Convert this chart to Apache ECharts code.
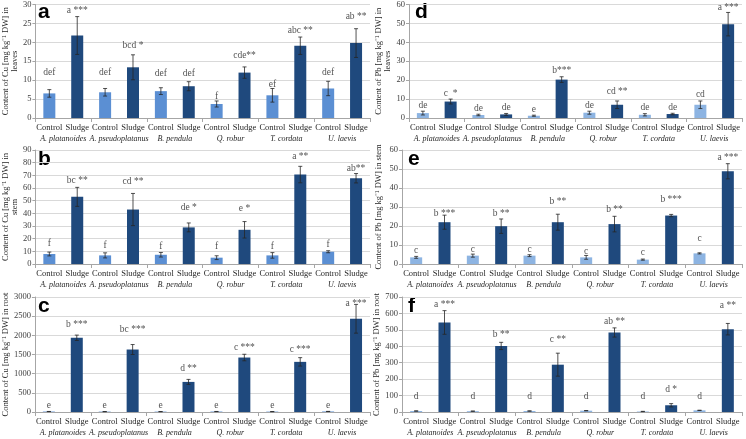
<!DOCTYPE html>
<html><head><meta charset="utf-8">
<script src="https://cdn.jsdelivr.net/npm/echarts@6/dist/echarts.min.js"></script>
<style>html,body{margin:0;padding:0;background:#fff}#c{width:746px;height:439px}</style>
</head><body><div id="c"></div>
<script>
const treatments = ['Control', 'Sludge'];
const species = ['A. platanoides', 'A. pseudoplatanus', 'B. pendula', 'Q. robur', 'T. cordata', 'U. laevis'];

// a: Cu in leaves
const cuLeavesControl = [6.5, 6.8, 7.1, 3.7, 6.0, 7.8];
const cuLeavesControlErr = [1.0, 1.0, 0.9, 0.8, 1.8, 1.9];
const cuLeavesSludge = [21.8, 13.4, 8.4, 12.0, 19.1, 19.8];
const cuLeavesSludgeErr = [5.0, 3.3, 1.2, 1.5, 2.3, 3.8];
const cuLeavesLetters = ['def', 'a ***', 'def', 'bcd *', 'def', 'def', 'f', 'cde**', 'ef', 'abc **', 'def', 'ab **'];
const cuLeavesLetterY = [11.9, 28.5, 11.9, 19.1, 11.7, 11.7, 5.7, 16.5, 8.9, 23.2, 11.9, 26.7];

// b: Cu in stem
const cuStemControl = [7.9, 6.8, 7.3, 5.0, 6.8, 9.7];
const cuStemControlErr = [1.5, 2.0, 1.8, 1.5, 2.2, 0.8];
const cuStemSludge = [53, 43, 28.9, 27, 70.6, 67.7];
const cuStemSludgeErr = [7.5, 12.7, 3.5, 6.5, 6.5, 3.7];
const cuStemLetters = ['f', 'bc **', 'f', 'cd **', 'f', 'de *', 'f', 'e *', 'f', 'a **', 'f', 'ab**'];
const cuStemLetterY = [16, 65.6, 14.7, 65, 13.9, 45, 14.2, 44, 14.2, 85, 15.7, 75.6];

// c: Cu in root
const cuRootControl = [12, 10, 10, 12, 10, 14];
const cuRootControlErr = [2, 2, 2, 2, 2, 2];
const cuRootSludge = [1936, 1630, 785, 1421, 1308, 2432];
const cuRootSludgeErr = [70, 130, 65, 85, 110, 375];
const cuRootLetters = ['e', 'b ***', 'e', 'bc ***', 'e', 'd **', 'e', 'c ***', 'e', 'c ***', 'e', 'a ***'];
const cuRootLetterY = [175, 2275, 175, 2145, 175, 1133, 175, 1683, 175, 1639, 175, 2842];

// d: Pb in leaves
const pbLeavesControl = [2.6, 1.6, 1.2, 2.8, 1.7, 7.0];
const pbLeavesControlErr = [1.0, 0.4, 0.3, 0.8, 0.6, 2.0];
const pbLeavesSludge = [8.7, 1.9, 20.3, 7.0, 2.1, 49.6];
const pbLeavesSludgeErr = [1.3, 0.5, 1.5, 2.0, 0.4, 6.2];
const pbLeavesLetters = ['de', 'c  *', 'de', 'de', 'e', 'b***', 'de', 'cd **', 'de', 'de', 'cd', 'a ***'];
const pbLeavesLetterY = [6.4, 13, 5.0, 5.4, 4.3, 25.2, 6.4, 13.9, 5.4, 5.4, 12.5, 58.3];

// e: Pb in stem
const pbStemControl = [3.5, 4.4, 4.4, 3.5, 2.3, 5.6];
const pbStemControlErr = [0.5, 0.8, 0.5, 1.0, 0.3, 0.3];
const pbStemSludge = [22, 19.9, 22, 21, 25.5, 48.8];
const pbStemSludgeErr = [3.7, 3.8, 4.2, 4.1, 0.6, 4.0];
const pbStemLetters = ['c', 'b ***', 'c', 'b **', 'c', 'b **', 'c', 'b **', 'c', 'b ***', 'c', 'a ***'];
const pbStemLetterY = [7, 26.7, 7.5, 26.7, 7.5, 32.9, 6.6, 28.5, 6.3, 33.7, 13.3, 56];

// f: Pb in root
const pbRootControl = [6, 5, 6, 8, 3, 10];
const pbRootControlErr = [1, 1, 1, 1, 1, 1];
const pbRootSludge = [545, 402, 288, 484, 41, 504];
const pbRootSludgeErr = [72, 22, 70, 28, 10, 35];
const pbRootLetters = ['d', 'a ***', 'd', 'b **', 'd', 'c **', 'd', 'ab **', 'd', 'd *', 'd', 'a **'];
const pbRootLetterY = [96, 653, 92, 471, 92, 439, 96, 551, 92, 137, 96, 647];

// y-axis ranges
const yMax = { a: 30, b: 90, c: 3000, d: 60, e: 60, f: 700 };
const yStep = { a: 5, b: 10, c: 500, d: 10, e: 10, f: 100 };

const SUP = '\u207B\u00B9';
const panels = [
  { key: 'a', ctl: cuLeavesControl, ctlE: cuLeavesControlErr, sl: cuLeavesSludge, slE: cuLeavesSludgeErr, let: cuLeavesLetters, letY: cuLeavesLetterY,
    name: 'Content of Cu [mg kg' + SUP + ' DW] in\nleaves', gap: 14, grid: { left: 32, width: 338, top: 3, height: 115 }, ctlColor: '#5b8fd3' },
  { key: 'b', ctl: cuStemControl, ctlE: cuStemControlErr, sl: cuStemSludge, slE: cuStemSludgeErr, let: cuStemLetters, letY: cuStemLetterY,
    name: 'Content of Cu [mg kg' + SUP + ' DW] in\nstem', gap: 14, grid: { left: 32, width: 338, top: 150, height: 114 }, ctlColor: '#5b8fd3' },
  { key: 'c', ctl: cuRootControl, ctlE: cuRootControlErr, sl: cuRootSludge, slE: cuRootSludgeErr, let: cuRootLetters, letY: cuRootLetterY,
    name: 'Content of Cu [mg kg' + SUP + ' DW] in root', gap: 18, grid: { left: 32, width: 338, top: 297, height: 115 }, ctlColor: '#5b8fd3' },
  { key: 'd', ctl: pbLeavesControl, ctlE: pbLeavesControlErr, sl: pbLeavesSludge, slE: pbLeavesSludgeErr, let: pbLeavesLetters, letY: pbLeavesLetterY,
    name: 'Content of Pb [mg kg' + SUP + ' DW] in\nleaves', gap: 17, grid: { left: 409, width: 333, top: 3, height: 115 }, ctlColor: '#8db4e2' },
  { key: 'e', ctl: pbStemControl, ctlE: pbStemControlErr, sl: pbStemSludge, slE: pbStemSludgeErr, let: pbStemLetters, letY: pbStemLetterY,
    name: 'Content of Pb [mg kg' + SUP + ' DW] in stem', gap: 19, grid: { left: 402, width: 340, top: 150, height: 114 }, ctlColor: '#8db4e2' },
  { key: 'f', ctl: pbRootControl, ctlE: pbRootControlErr, sl: pbRootSludge, slE: pbRootSludgeErr, let: pbRootLetters, letY: pbRootLetterY,
    name: 'Content of Pb [mg kg' + SUP + ' DW] in root', gap: 18, grid: { left: 402, width: 340, top: 297, height: 115 }, ctlColor: '#8db4e2' }
];

const SERIF = 'Liberation Serif';
const catLabels = [];
species.forEach(() => { catLabels.push(treatments[0], treatments[1]); });

const option = { animation: false, grid: [], xAxis: [], yAxis: [], series: [], graphic: [] };

panels.forEach((p, gi) => {
  option.grid.push(Object.assign({ containLabel: false }, p.grid));
  // treatment axis
  option.xAxis.push({
    type: 'category', gridIndex: gi, data: catLabels, position: 'bottom',
    axisLine: { show: true, lineStyle: { color: '#a6a6a6', width: 1 } },
    axisTick: { show: false },
    axisLabel: { interval: 0, margin: 5, fontFamily: SERIF, fontSize: 8.5, color: '#262626' },
    splitLine: { show: false }
  });
  // species axis
  option.xAxis.push({
    type: 'category', gridIndex: gi, data: species, position: 'bottom', offset: 0,
    axisLine: { show: false },
    axisTick: { show: true, length: 4, lineStyle: { color: '#a6a6a6' } },
    axisLabel: { interval: 0, margin: 17, fontFamily: SERIF, fontSize: 8, fontStyle: 'italic', color: '#262626' },
    splitLine: { show: false }
  });
  option.yAxis.push({
    type: 'value', gridIndex: gi, min: 0, max: yMax[p.key], interval: yStep[p.key],
    name: p.name, nameLocation: 'middle', nameGap: p.gap, nameRotate: 90,
    nameTextStyle: { fontFamily: SERIF, fontSize: 8.5, lineHeight: 9, color: '#262626' },
    axisLine: { show: true, lineStyle: { color: '#a6a6a6' } },
    axisTick: { show: true, length: 3, lineStyle: { color: '#a6a6a6' } },
    axisLabel: { margin: 4, fontFamily: SERIF, fontSize: 8.5, color: '#404040', formatter: (v) => String(v) },
    splitLine: { show: true, lineStyle: { color: '#d9d9d9', width: 1 } }
  });
  const xi = gi * 2;
  const barData = [];
  const errData = [];
  for (let i = 0; i < species.length; i++) {
    barData.push({ value: p.ctl[i], itemStyle: { color: p.ctlColor } });
    barData.push({ value: p.sl[i], itemStyle: { color: '#1f497d' } });
    errData.push([2 * i, p.ctl[i], p.ctlE[i]]);
    errData.push([2 * i + 1, p.sl[i], p.slE[i]]);
  }
  option.series.push({
    type: 'bar', xAxisIndex: xi, yAxisIndex: gi, data: barData, barWidth: 12, silent: true
  });
  option.series.push({
    type: 'custom', xAxisIndex: xi, yAxisIndex: gi, data: errData, silent: true, z: 5,
    renderItem: function (params, api) {
      const x = api.value(0), m = api.value(1), e = api.value(2);
      const hi = api.coord([x, m + e]);
      const lo = api.coord([x, Math.max(0, m - e)]);
      const c = { stroke: '#262626', lineWidth: 0.8 };
      return { type: 'group', children: [
        { type: 'line', shape: { x1: hi[0], y1: hi[1], x2: lo[0], y2: lo[1] }, style: c },
        { type: 'line', shape: { x1: hi[0] - 2, y1: hi[1], x2: hi[0] + 2, y2: hi[1] }, style: c },
        { type: 'line', shape: { x1: lo[0] - 2, y1: lo[1], x2: lo[0] + 2, y2: lo[1] }, style: c }
      ] };
    }
  });
  option.series.push({
    type: 'scatter', xAxisIndex: xi, yAxisIndex: gi, symbolSize: 0, silent: true,
    data: p.let.map((t, i) => [i, p.letY[i], t]),
    label: { show: true, position: 'inside', formatter: (d) => d.data[2], fontFamily: SERIF, fontSize: 9.5, color: '#262626' }
  });
  option.graphic.push({
    type: 'text', left: p.grid.left + 6, top: p.grid.top - 1,
    style: { text: p.key, font: 'bold 21px "Liberation Sans", Arial, sans-serif', fill: '#000' }
  });
});

const chart = echarts.init(document.getElementById('c'), null, { renderer: 'canvas' });
chart.setOption(option);
</script>
</body></html>
